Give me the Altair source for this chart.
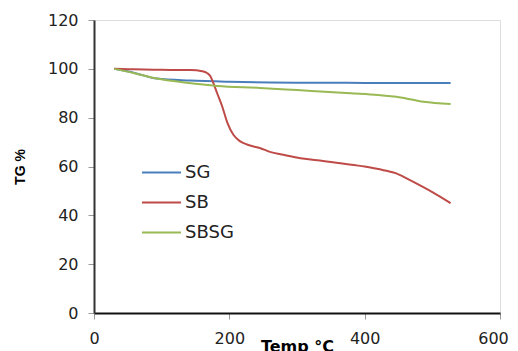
import altair as alt
import pandas as pd

sg_t = [30, 60, 93, 142, 200, 260, 300, 350, 400, 450, 500, 527]
sg_v = [100, 98.3, 96, 95.2, 94.7, 94.4, 94.3, 94.3, 94.2, 94.2, 94.2, 94.2]

sb_t = [30, 60, 100, 142, 160, 167, 172, 176, 182, 189, 197, 206, 215, 226, 246, 260, 280, 305,
        330, 364, 400, 428, 450, 467, 500, 527]
sb_v = [100, 99.8, 99.6, 99.5, 99, 98.3, 97, 94.5, 90, 85, 78, 73, 70.5, 69, 67.5, 66, 64.8, 63.4,
        62.6, 61.3, 60, 58.5, 56.8, 54.4, 49.5, 45]

sbsg_t = [30, 60, 93, 137, 182, 245, 300, 379, 420, 453, 487, 527]
sbsg_v = [100, 98.2, 96, 94.3, 93, 92.2, 91.3, 90, 89.3, 88.3, 86.5, 85.6]

series = ["SG", "SB", "SBSG"]
colors = ["#4a7ebb", "#be4b48", "#98b954"]

rows = []
for name, ts, vs in [("SG", sg_t, sg_v), ("SB", sb_t, sb_v), ("SBSG", sbsg_t, sbsg_v)]:
    for t, v in zip(ts, vs):
        rows.append({"series": name, "temp": t, "tg": v})
df = pd.DataFrame(rows)

lab = "DejaVu Sans"

chart = alt.Chart(df).mark_line(strokeWidth=2, interpolate="monotone").encode(
    x=alt.X("temp:Q", scale=alt.Scale(domain=[0, 600], nice=False),
            axis=alt.Axis(values=[0, 200, 400, 600], title="Temp °C", grid=False,
                          titleY=25, titleBaseline="top", labelFlush=False,
                          labelOffset={"condition": {"test": "datum.value === 600", "value": -7},
                                       "value": 0},
                          titleFont=lab, titleFontSize=16, titleFontWeight="bold",
                          titleColor="#000", labelFont=lab, labelFontSize=16,
                          labelColor="#222", labelPadding=11, tickColor="#999",
                          tickSize=6, domainColor="#111", domainWidth=2)),
    y=alt.Y("tg:Q", scale=alt.Scale(domain=[0, 120], nice=False),
            axis=alt.Axis(values=[0, 20, 40, 60, 80, 100, 120], title="TG %", grid=False,
                          labelFlush=False,
                          titleFont="Liberation Sans", titleFontSize=14, titleFontWeight="bold",
                          titleColor="#000", titlePadding=20, labelFont=lab,
                          labelFontSize=16, labelColor="#222", labelPadding=10,
                          tickColor="#999", tickSize=6, domainColor="#333", domainWidth=2)),
    color=alt.Color("series:N", scale=alt.Scale(domain=series, range=colors),
                    legend=alt.Legend(title=None, orient="none", legendX=47, legendY=132,
                                      symbolType="stroke", symbolSize=1521,
                                      symbolStrokeWidth=2, labelFont=lab,
                                      labelFontSize=18, labelColor="#222",
                                      labelOffset=3, rowPadding=0)),
    order="temp:Q",
).properties(
    width=406, height=293,
    padding={"left": 86, "top": 12, "right": 10, "bottom": 38},
    autosize=alt.AutoSizeParams(type="none"),
).configure_view(stroke="#000", strokeWidth=2).configure(background="white")

chart.save("out.html", embed_options={"renderer": "svg", "actions": False})
